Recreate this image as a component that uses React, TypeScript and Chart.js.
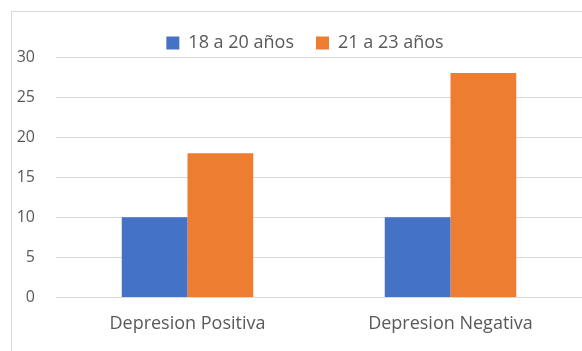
import React, { useEffect, useRef } from "react";
import { Chart, registerables } from "chart.js";

Chart.register(...registerables);

const categories = ["Depresion Positiva", "Depresion Negativa"];
const seriesNames = ["18 a 20 años", "21 a 23 años"];
const series18a20 = [10, 10];
const series21a23 = [18, 28];
const yMin = 0;
const yMax = 30;
const yStep = 5;

const FONT = "'Open Sans', 'Noto Sans', sans-serif";
const TEXT = "#595959";

const legendTweak = {
  id: "legendTweak",
  beforeLayout(chart: any) {
    const lg = chart.legend;
    if (lg && !lg.__wrapped) {
      const orig = lg.fit;
      lg.fit = function (this: any) {
        orig.call(this);
        this.height = 45;
      };
      lg.__wrapped = true;
    }
  },
  afterLayout(chart: any) {
    const lg = chart.legend;
    if (lg) {
      lg.left += 8;
      lg.right += 8;
    }
  },
};

export default function App() {
  const ref = useRef<HTMLCanvasElement | null>(null);

  useEffect(() => {
    document.body.style.margin = "0";
    const canvas = ref.current;
    if (!canvas) return;
    const chart = new Chart(canvas, {
      type: "bar",
      data: {
        labels: categories,
        datasets: [
          { label: seriesNames[0], data: series18a20, backgroundColor: "#4472C4", borderWidth: 0 },
          { label: seriesNames[1], data: series21a23, backgroundColor: "#ED7D31", borderWidth: 0 },
        ],
      },
      plugins: [legendTweak],
      options: {
        responsive: false,
        animation: false,
        devicePixelRatio: 1,
        layout: { padding: { left: 0, right: 0, top: 0, bottom: 0 } },
        datasets: { bar: { categoryPercentage: 0.5, barPercentage: 1 } },
        plugins: {
          legend: {
            position: "top",
            labels: {
              boxWidth: 13,
              boxHeight: 13,
              padding: 22,
              color: TEXT,
              font: { family: FONT, size: 18 },
            },
          },
          tooltip: { enabled: false },
        },
        scales: {
          x: {
            grid: { display: false, drawTicks: false },
            border: { display: false },
            ticks: { color: TEXT, font: { family: FONT, size: 18 }, padding: 16 },
          },
          y: {
            min: yMin,
            max: yMax,
            ticks: { stepSize: yStep, color: TEXT, font: { family: FONT, size: 16 }, padding: 21 },
            grid: { color: "#d9d9d9", drawTicks: false, lineWidth: 1 },
            border: { display: false },
            afterFit: (scale: any) => {
              scale.width = 44;
            },
          },
        },
      },
    });
    return () => chart.destroy();
  }, []);

  return (
    <div
      style={{
        position: "absolute",
        left: 11,
        top: 11,
        width: 571,
        height: 340,
        borderLeft: "1px solid #d9d9d9",
        borderTop: "1px solid #d9d9d9",
        background: "#fff",
      }}
    >
      <canvas ref={ref} width={570} height={339} style={{ display: "block" }} />
    </div>
  );
}
